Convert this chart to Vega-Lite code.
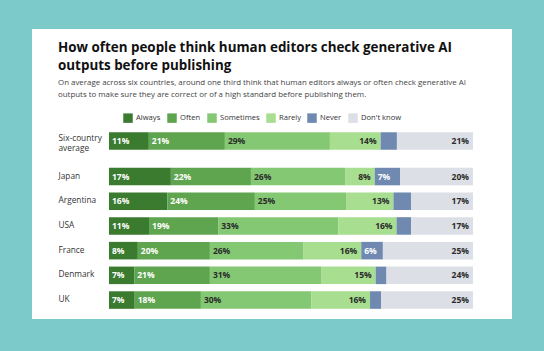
{
  "$schema": "https://vega.github.io/schema/vega-lite/v6.json",
  "width": 544,
  "height": 351,
  "autosize": {"type": "fit", "contains": "padding"},
  "padding": {"left": 32, "right": 32, "top": 29, "bottom": 32},
  "background": "#7ccaca",
  "view": {"fill": "white", "stroke": null},
  "config": {
    "font": "Open Sans",
    "axis": {"labelFont": "Open Sans", "labelFontSize": 8.3, "labelColor": "#333333"},
    "legend": {"labelFont": "Open Sans"}
  },
  "title": {
    "text": ["How often people think human editors check generative AI", "outputs before publishing"],
    "subtitle": ["On average across six countries, around one third think that human editors always or often check generative AI", "outputs to make sure they are correct or of a high standard before publishing them."],
    "anchor": "start",
    "frame": "group",
    "orient": "top",
    "offset": -70,
    "dx": 26,
    "font": "Open Sans",
    "fontSize": 13.4,
    "fontWeight": "bold",
    "color": "#111111",
    "lineHeight": 18,
    "subtitleFont": "Open Sans",
    "subtitleFontSize": 7.9,
    "subtitleColor": "#444444",
    "subtitleLineHeight": 12,
    "subtitlePadding": 7
  },
  "data": {
    "values": [
      {"country": "Six-country average", "response": "Always", "value": 0.11},
      {"country": "Six-country average", "response": "Often", "value": 0.21},
      {"country": "Six-country average", "response": "Sometimes", "value": 0.29},
      {"country": "Six-country average", "response": "Rarely", "value": 0.14},
      {"country": "Six-country average", "response": "Never", "value": 0.045},
      {"country": "Six-country average", "response": "Don't know", "value": 0.21},
      {"country": "Japan", "response": "Always", "value": 0.17},
      {"country": "Japan", "response": "Often", "value": 0.22},
      {"country": "Japan", "response": "Sometimes", "value": 0.26},
      {"country": "Japan", "response": "Rarely", "value": 0.08},
      {"country": "Japan", "response": "Never", "value": 0.07},
      {"country": "Japan", "response": "Don't know", "value": 0.20},
      {"country": "Argentina", "response": "Always", "value": 0.16},
      {"country": "Argentina", "response": "Often", "value": 0.24},
      {"country": "Argentina", "response": "Sometimes", "value": 0.25},
      {"country": "Argentina", "response": "Rarely", "value": 0.13},
      {"country": "Argentina", "response": "Never", "value": 0.048},
      {"country": "Argentina", "response": "Don't know", "value": 0.17},
      {"country": "USA", "response": "Always", "value": 0.11},
      {"country": "USA", "response": "Often", "value": 0.19},
      {"country": "USA", "response": "Sometimes", "value": 0.33},
      {"country": "USA", "response": "Rarely", "value": 0.16},
      {"country": "USA", "response": "Never", "value": 0.04},
      {"country": "USA", "response": "Don't know", "value": 0.17},
      {"country": "France", "response": "Always", "value": 0.08},
      {"country": "France", "response": "Often", "value": 0.20},
      {"country": "France", "response": "Sometimes", "value": 0.26},
      {"country": "France", "response": "Rarely", "value": 0.16},
      {"country": "France", "response": "Never", "value": 0.06},
      {"country": "France", "response": "Don't know", "value": 0.25},
      {"country": "Denmark", "response": "Always", "value": 0.07},
      {"country": "Denmark", "response": "Often", "value": 0.21},
      {"country": "Denmark", "response": "Sometimes", "value": 0.31},
      {"country": "Denmark", "response": "Rarely", "value": 0.15},
      {"country": "Denmark", "response": "Never", "value": 0.03},
      {"country": "Denmark", "response": "Don't know", "value": 0.24},
      {"country": "UK", "response": "Always", "value": 0.07},
      {"country": "UK", "response": "Often", "value": 0.18},
      {"country": "UK", "response": "Sometimes", "value": 0.30},
      {"country": "UK", "response": "Rarely", "value": 0.16},
      {"country": "UK", "response": "Never", "value": 0.03},
      {"country": "UK", "response": "Don't know", "value": 0.25}
    ]
  },
  "transform": [
    {"calculate": "indexof(['Always','Often','Sometimes','Rarely','Never',\"Don't know\"], datum.response)", "as": "rank"}
  ],
  "resolve": {"scale": {"y": "independent"}, "axis": {"y": "independent"}},
  "layer": [
    {
      "transform": [{"filter": "datum.country == 'Six-country average'"}],
      "encoding": {
        "y": {
          "field": "country", "type": "nominal", "sort": null, "title": null,
          "scale": {"domain": ["Six-country average"], "range": [103.25, 120.75], "paddingInner": 0, "paddingOuter": 0},
          "axis": {"orient": "left", "offset": -26, "labelPadding": 0, "ticks": false, "domain": false, "labelAlign": "left", "labelExpr": "split(datum.label, ' ')", "labelLineHeight": 10.5, "labelOffset": -2.5}
        },
        "x": {"field": "value", "type": "quantitative", "stack": "normalize", "scale": {"domain": [-0.2115, 1.1072]}, "axis": null},
        "order": {"field": "rank"},
        "detail": {"field": "response"}
      },
      "layer": [
        {
          "mark": {"type": "bar"},
          "encoding": {
            "color": {
              "field": "response", "type": "nominal", "title": null,
              "scale": {"domain": ["Always", "Often", "Sometimes", "Rarely", "Never", "Don't know"], "range": ["#3b7b30", "#5fa550", "#84c873", "#a7de90", "#6f89b1", "#dcdfe6"]},
              "legend": {"orient": "none", "legendX": 91, "legendY": 84, "direction": "horizontal", "symbolType": "square", "symbolSize": 90, "symbolStrokeWidth": 0, "symbolOpacity": 1, "labelFontSize": 7.6, "labelColor": "#333333", "labelOffset": 3, "columnPadding": 6}
            }
          }
        },
        {
          "mark": {"type": "text", "align": "left", "dx": 3, "fontWeight": "bold", "fontSize": 8.5, "font": "Open Sans"},
          "encoding": {
            "x": {"field": "value", "type": "quantitative", "stack": "normalize", "bandPosition": 0},
            "text": {"condition": {"test": "datum.response == 'Always' || datum.response == 'Often' || datum.response == 'Sometimes' || (datum.response == 'Never' && datum.value >= 0.055)", "field": "value", "type": "quantitative", "format": ".0%"}, "value": ""},
            "color": {"condition": {"test": "datum.response == 'Always' || datum.response == 'Often' || datum.response == 'Never'", "value": "white"}, "value": "#2b2b2b"}
          }
        },
        {
          "mark": {"type": "text", "align": "right", "dx": -4, "fontWeight": "bold", "fontSize": 8.5, "font": "Open Sans"},
          "encoding": {
            "text": {"condition": {"test": "datum.response == 'Rarely' || datum.response == \"Don't know\"", "field": "value", "type": "quantitative", "format": ".0%"}, "value": ""},
            "color": {"value": "#2b2b2b"}
          }
        }
      ]
    },
    {
      "transform": [{"filter": "datum.country != 'Six-country average'"}],
      "encoding": {
        "y": {
          "field": "country", "type": "nominal", "sort": null, "title": null,
          "scale": {"domain": ["Japan", "Argentina", "USA", "France", "Denmark", "UK"], "range": [135.2, 283.4], "paddingInner": 0.29, "paddingOuter": 0.145},
          "axis": {"orient": "left", "offset": -26, "labelPadding": 0, "ticks": false, "domain": false, "labelAlign": "left"}
        },
        "x": {"field": "value", "type": "quantitative", "stack": "normalize", "scale": {"domain": [-0.2115, 1.1072]}, "axis": null},
        "order": {"field": "rank"},
        "detail": {"field": "response"}
      },
      "layer": [
        {
          "mark": {"type": "bar"},
          "encoding": {
            "color": {"field": "response", "type": "nominal", "title": null}
          }
        },
        {
          "mark": {"type": "text", "align": "left", "dx": 3, "fontWeight": "bold", "fontSize": 8.5, "font": "Open Sans"},
          "encoding": {
            "x": {"field": "value", "type": "quantitative", "stack": "normalize", "bandPosition": 0},
            "text": {"condition": {"test": "datum.response == 'Always' || datum.response == 'Often' || datum.response == 'Sometimes' || (datum.response == 'Never' && datum.value >= 0.055)", "field": "value", "type": "quantitative", "format": ".0%"}, "value": ""},
            "color": {"condition": {"test": "datum.response == 'Always' || datum.response == 'Often' || datum.response == 'Never'", "value": "white"}, "value": "#2b2b2b"}
          }
        },
        {
          "mark": {"type": "text", "align": "right", "dx": -4, "fontWeight": "bold", "fontSize": 8.5, "font": "Open Sans"},
          "encoding": {
            "text": {"condition": {"test": "datum.response == 'Rarely' || datum.response == \"Don't know\"", "field": "value", "type": "quantitative", "format": ".0%"}, "value": ""},
            "color": {"value": "#2b2b2b"}
          }
        }
      ]
    }
  ]
}
